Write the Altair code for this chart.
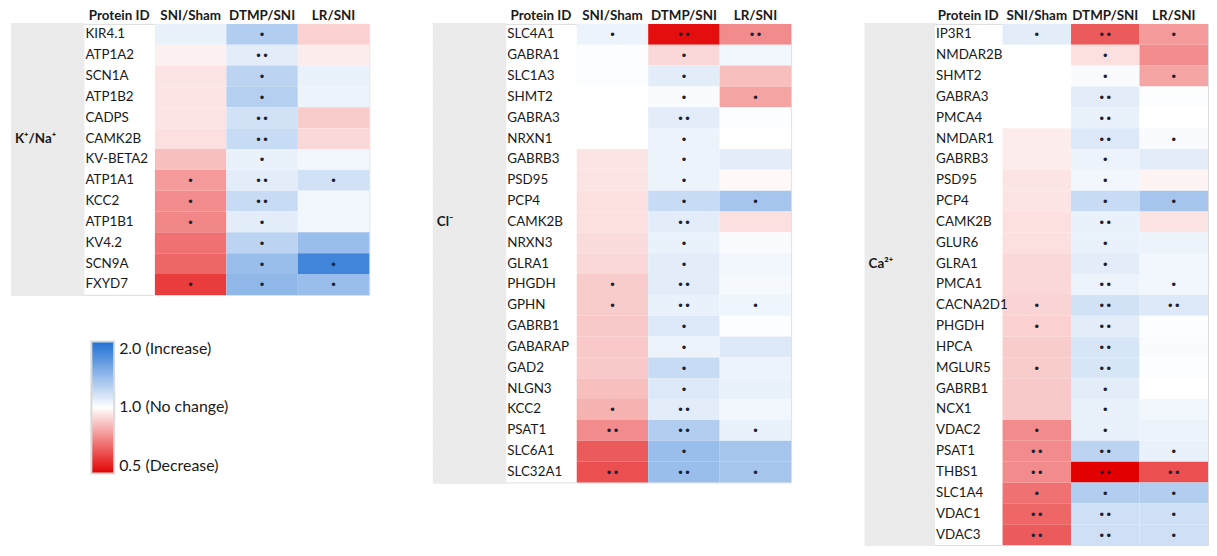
import altair as alt
import pandas as pd

COMPS = ["SNI/Sham", "DTMP/SNI", "LR/SNI"]
COLS = ["grp", "Protein ID"] + COMPS

# ---- K+/Na+ panel ----
k_proteins = ["KIR4.1", "ATP1A2", "SCN1A", "ATP1B2", "CADPS", "CAMK2B", "KV-BETA2",
              "ATP1A1", "KCC2", "ATP1B1", "KV4.2", "SCN9A", "FXYD7"]
k_sni = [1.07, 0.96, 0.93, 0.93, 0.93, 0.92, 0.84, 0.76, 0.73, 0.72, 0.68, 0.66, 0.59]
k_dtmp = [1.27, 1.09, 1.23, 1.26, 1.15, 1.19, 1.07, 1.09, 1.19, 1.09, 1.23, 1.37, 1.41]
k_lr = [0.88, 0.95, 1.07, 1.06, 0.87, 0.90, 1.04, 1.15, 1.04, 1.04, 1.37, 1.80, 1.37]
k_sig_sni = ["", "", "", "", "", "", "", "*", "*", "*", "", "", "*"]
k_sig_dtmp = ["*", "**", "*", "*", "**", "**", "*", "**", "**", "*", "*", "*", "*"]
k_sig_lr = ["", "", "", "", "", "", "", "*", "", "", "", "*", "*"]

# ---- Cl- panel ----
cl_proteins = ["SLC4A1", "GABRA1", "SLC1A3", "SHMT2", "GABRA3", "NRXN1", "GABRB3", "PSD95",
               "PCP4", "CAMK2B", "NRXN3", "GLRA1", "PHGDH", "GPHN", "GABRB1", "GABARAP",
               "GAD2", "NLGN3", "KCC2", "PSAT1", "SLC6A1", "SLC32A1"]
cl_sni = [1.06, 1.01, 1.01, 1.00, 1.00, 1.00, 0.93, 0.93, 0.92, 0.92, 0.91, 0.90, 0.87,
          0.87, 0.86, 0.86, 0.86, 0.84, 0.81, 0.73, 0.64, 0.62]
cl_dtmp = [0.52, 0.90, 1.09, 1.02, 1.09, 1.06, 1.06, 1.06, 1.19, 1.09, 1.07, 1.09, 1.09,
           1.07, 1.11, 1.06, 1.19, 1.11, 1.09, 1.27, 1.37, 1.37]
cl_lr = [0.73, 1.04, 0.84, 0.78, 1.01, 1.00, 1.09, 0.98, 1.32, 0.92, 1.02, 1.04, 1.03,
         1.05, 1.01, 1.11, 1.06, 1.07, 1.04, 1.07, 1.32, 1.32]
cl_sig_sni = ["*", "", "", "", "", "", "", "", "", "", "", "", "*", "*", "", "", "", "",
              "*", "**", "", "**"]
cl_sig_dtmp = ["**", "*", "*", "*", "**", "*", "*", "*", "*", "**", "*", "*", "**", "**",
               "*", "*", "*", "*", "**", "**", "*", "**"]
cl_sig_lr = ["**", "", "", "*", "", "", "", "", "*", "", "", "", "", "*", "", "", "", "",
             "", "*", "", "*"]

# ---- Ca2+ panel ----
ca_proteins = ["IP3R1", "NMDAR2B", "SHMT2", "GABRA3", "PMCA4", "NMDAR1", "GABRB3", "PSD95",
               "PCP4", "CAMK2B", "GLUR6", "GLRA1", "PMCA1", "CACNA2D1", "PHGDH", "HPCA",
               "MGLUR5", "GABRB1", "NCX1", "VDAC2", "PSAT1", "THBS1", "SLC1A4", "VDAC1", "VDAC3"]
ca_sni = [1.09, 1.00, 1.00, 1.00, 1.00, 0.95, 0.95, 0.93, 0.93, 0.92, 0.92, 0.90, 0.90,
          0.89, 0.88, 0.87, 0.87, 0.86, 0.86, 0.73, 0.73, 0.73, 0.68, 0.66, 0.64]
ca_dtmp = [0.64, 0.92, 1.02, 1.09, 1.07, 1.11, 1.06, 1.04, 1.19, 1.07, 1.07, 1.09, 1.06,
           1.15, 1.09, 1.13, 1.13, 1.09, 1.07, 1.07, 1.23, 0.50, 1.27, 1.16, 1.16]
ca_lr = [0.76, 0.73, 0.78, 1.01, 1.00, 1.02, 1.09, 0.97, 1.32, 0.93, 1.06, 1.04, 1.04,
         1.11, 1.01, 1.02, 1.01, 1.00, 1.04, 1.06, 1.07, 0.62, 1.27, 1.16, 1.16]
ca_sig_sni = ["*", "", "", "", "", "", "", "", "", "", "", "", "", "*", "*", "", "*", "",
              "", "*", "**", "**", "*", "**", "**"]
ca_sig_dtmp = ["**", "*", "*", "**", "**", "**", "*", "*", "*", "**", "*", "*", "**", "**",
               "**", "**", "**", "*", "*", "*", "**", "**", "*", "**", "**"]
ca_sig_lr = ["*", "", "*", "", "", "*", "", "", "*", "", "", "", "*", "**", "", "", "", "",
             "", "", "*", "**", "*", "*", "*"]

legend_values = [0.5, 1.0, 2.0]
legend_labels = ["0.5 (Decrease)", "1.0 (No change)", "2.0 (Increase)"]

FONT = "Lato"
TXT = "#1a1a1a"
GRAY = "#ebebeb"
ROW_H = 21

color_scale = alt.Scale(type="log", domain=legend_values,
                        range=["#e20000", "#ffffff", "#1e6fd3"], interpolate="rgb")
label_expr = ("datum.value < 0.75 ? '%s' : datum.value < 1.5 ? '%s' : '%s'"
              % (legend_labels[0], legend_labels[1], legend_labels[2]))
legend = alt.Legend(orient="none", legendX=80, legendY=320, title=None,
                    values=legend_values, labelExpr=label_expr, direction="vertical",
                    gradientLength=133, gradientThickness=23, labelFontSize=16,
                    labelFont=FONT, labelColor=TXT, labelOffset=5,
                    gradientStrokeColor="#d9d9d9", gradientStrokeWidth=2, labelLimit=300)


def x_enc(band_pos=None):
    kw = {}
    if band_pos is not None:
        kw["bandPosition"] = band_pos
    return alt.X("col:N",
                 scale=alt.Scale(domain=COLS, paddingInner=0, paddingOuter=0),
                 axis=alt.Axis(orient="top", title=None, ticks=False, domain=False,
                               labelAngle=0, labelFontWeight="bold", labelFontSize=13.5,
                               labelFont=FONT, labelPadding=1, labelColor=TXT,
                               labelExpr="datum.value == 'grp' ? '' : datum.value",
                               labelLimit=200),
                 **kw)


def panel(group_label, label_row, proteins, sni, dtmp, lr, s1, s2, s3, width):
    rows = []
    for i, p in enumerate(proteins):
        for comp, vals, sigs in zip(COMPS, [sni, dtmp, lr], [s1, s2, s3]):
            rows.append({"protein": p, "col": comp, "value": vals[i], "sig": sigs[i]})
    heat_df = pd.DataFrame(rows)
    name_df = pd.DataFrame({"protein": proteins, "col": ["Protein ID"] * len(proteins)})
    grp_df = pd.DataFrame({"protein": proteins, "col": ["grp"] * len(proteins)})
    lab_df = pd.DataFrame({"protein": [label_row], "col": ["grp"], "text": [group_label]})

    y = alt.Y("protein:N", sort=proteins,
              scale=alt.Scale(paddingInner=0, paddingOuter=0), axis=None)

    grp = alt.Chart(grp_df).mark_rect(
        color=GRAY, stroke=GRAY, strokeWidth=2
    ).encode(x=x_enc(), y=y)
    heat = alt.Chart(heat_df).mark_rect().encode(
        x=x_enc(), y=y,
        color=alt.Color("value:Q", scale=color_scale, legend=legend))
    sig = alt.Chart(heat_df).transform_calculate(
        dots="datum.sig == '**' ? '••' : datum.sig == '*' ? '•' : ''"
    ).mark_text(fontSize=12, font="DejaVu Sans", color="#1c2233", baseline="middle",
                dy=1).encode(x=x_enc(), y=y, text="dots:N")
    names = alt.Chart(name_df).mark_text(
        align="left", dx=2, fontSize=13.5, font=FONT, color=TXT, baseline="middle"
    ).encode(x=x_enc(0), y=y, text="protein:N")
    glabel = alt.Chart(lab_df).mark_text(
        align="left", dx=3, fontSize=13.5, font=FONT, fontWeight="bold",
        color=TXT, baseline="middle"
    ).encode(x=x_enc(0), y=y, text="text:N")
    return alt.layer(grp, heat, sig, names, glabel).properties(
        width=width, height=len(proteins) * ROW_H)


p1 = panel("K⁺/Na⁺", "CAMK2B", k_proteins, k_sni, k_dtmp, k_lr,
           k_sig_sni, k_sig_dtmp, k_sig_lr, 360)
p2 = panel("Cl⁻", "CAMK2B", cl_proteins, cl_sni, cl_dtmp, cl_lr,
           cl_sig_sni, cl_sig_dtmp, cl_sig_lr, 360)
p3 = panel("Ca²⁺", "GLRA1", ca_proteins, ca_sni, ca_dtmp, ca_lr,
           ca_sig_sni, ca_sig_dtmp, ca_sig_lr, 345)

chart = alt.hconcat(alt.hconcat(p1, p2, spacing=62), p3, spacing=72).properties(
    padding={"left": 2, "top": -2, "right": 0, "bottom": 0}
).configure_view(stroke=None).configure(background="white")

chart.save("out.html", embed_options={"renderer": "svg", "actions": False})
